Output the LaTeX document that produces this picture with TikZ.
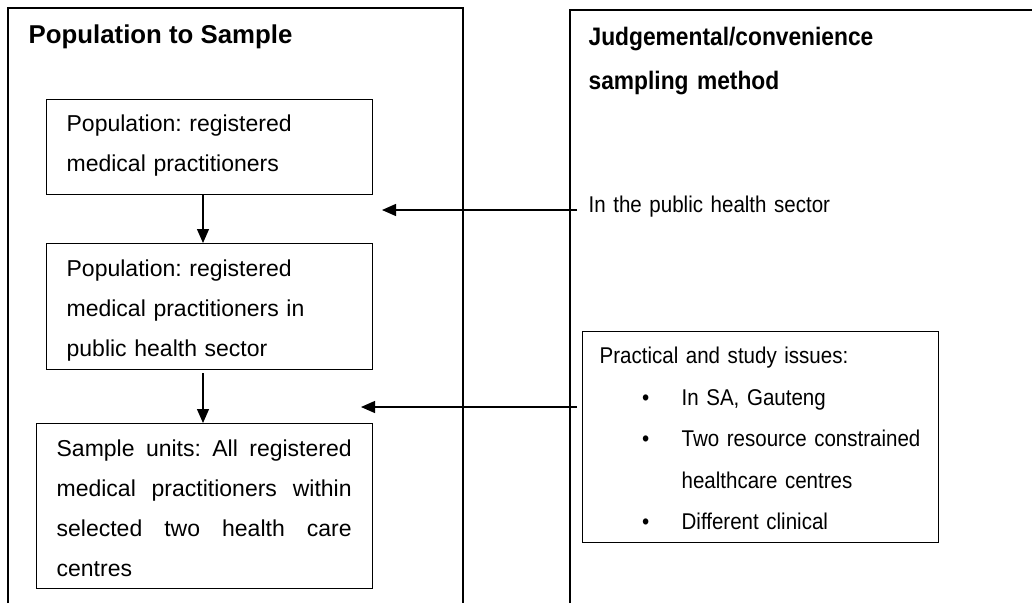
\documentclass[tikz,border=0pt]{standalone}
\usepackage{fontspec}
\setmainfont{Liberation Sans}
\newfontfamily\narrowsans{Liberation Sans}[FakeStretch=0.9,WordSpace=0.85]
\usetikzlibrary{arrows.meta}
\newcommand\tstrut{\rule{0pt}{20pt}}
\newcommand\bul{\llap{\makebox[72pt]{•}}}
\frenchspacing
\begin{document}
\frenchspacing
\begin{tikzpicture}[x=1pt,y=-1pt,line width=1.3pt,
  box/.style={draw, rectangle, anchor=north west, inner sep=0pt},
  txt/.style={anchor=north west, inner sep=0pt, align=left, font=\fontsize{23}{40}\selectfont\frenchspacing},
  ltitle/.style={anchor=north west, inner sep=0pt, align=left, font=\fontsize{25.8}{44}\selectfont\bfseries},
  rtitle/.style={anchor=north west, inner sep=0pt, align=left, font=\narrowsans\fontsize{25.3}{44}\selectfont\bfseries},
  rtxt/.style={anchor=north west, inner sep=0pt, align=left, font=\narrowsans\fontsize{22.8}{41.5}\selectfont\frenchspacing},
  arr/.style={-{Triangle[length=14pt,width=12pt]}}]
\useasboundingbox (0,0) rectangle (1032,603);
% frames
\draw (8,603) -- (8,8) -- (463,8) -- (463,603);
\draw (570,603) -- (570,10) -- (1032,10);
% titles
\node[ltitle] (tl) at (28,23) {\tstrut Population to Sample};
\node[rtitle, text width=400pt] (tr) at (588,25) {\tstrut Judgemental/convenience\\sampling method};
% left boxes
\node[box, minimum width=326pt, minimum height=95pt] (b1) at (46,99) {};
\node[txt, text width=300pt] (t1) at (66,111) {\tstrut Population: registered\\medical practitioners};
\node[box, minimum width=326pt, minimum height=126pt] (b2) at (46,243) {};
\node[txt, text width=300pt] (t2) at (66,256) {\tstrut Population: registered\\medical practitioners in\\public health sector};
\node[box, minimum width=336pt, minimum height=165pt] (b3) at (36,423) {};
\node[txt, text width=295pt, align=justify] (t3) at (56,436) {\hyphenpenalty=10000\tstrut Sample units: All registered\linebreak medical practitioners within\linebreak selected two health care\linebreak centres};
% right side
\node[rtxt, text width=400pt] (ts) at (588,192) {\tstrut In the public health sector};
\node[box, minimum width=356pt, minimum height=211pt] (b4) at (582,331) {};
\node[rtxt, text width=330pt] (tp) at (599,343) {\tstrut Practical and study issues:\\
\hspace*{82pt}\bul In SA, Gauteng\\
\hspace*{82pt}\bul Two resource constrained\\
\hspace*{82pt}healthcare centres\\
\hspace*{82pt}\bul Different clinical};
% connectors
\coordinate (ax) at (203,0);
\draw[arr] (b1.south -| ax) -- (b2.north -| ax);
\draw[arr] ([yshift=-3pt]b2.south -| ax) -- (b3.north -| ax);
\coordinate (s1) at (577,210);
\coordinate (e1) at (382,210);
\coordinate (s2) at (577,407);
\coordinate (e2) at (361,407);
\draw[arr] (s1) -- (e1);
\draw[arr] (s2) -- (e2);
\end{tikzpicture}
\end{document}
